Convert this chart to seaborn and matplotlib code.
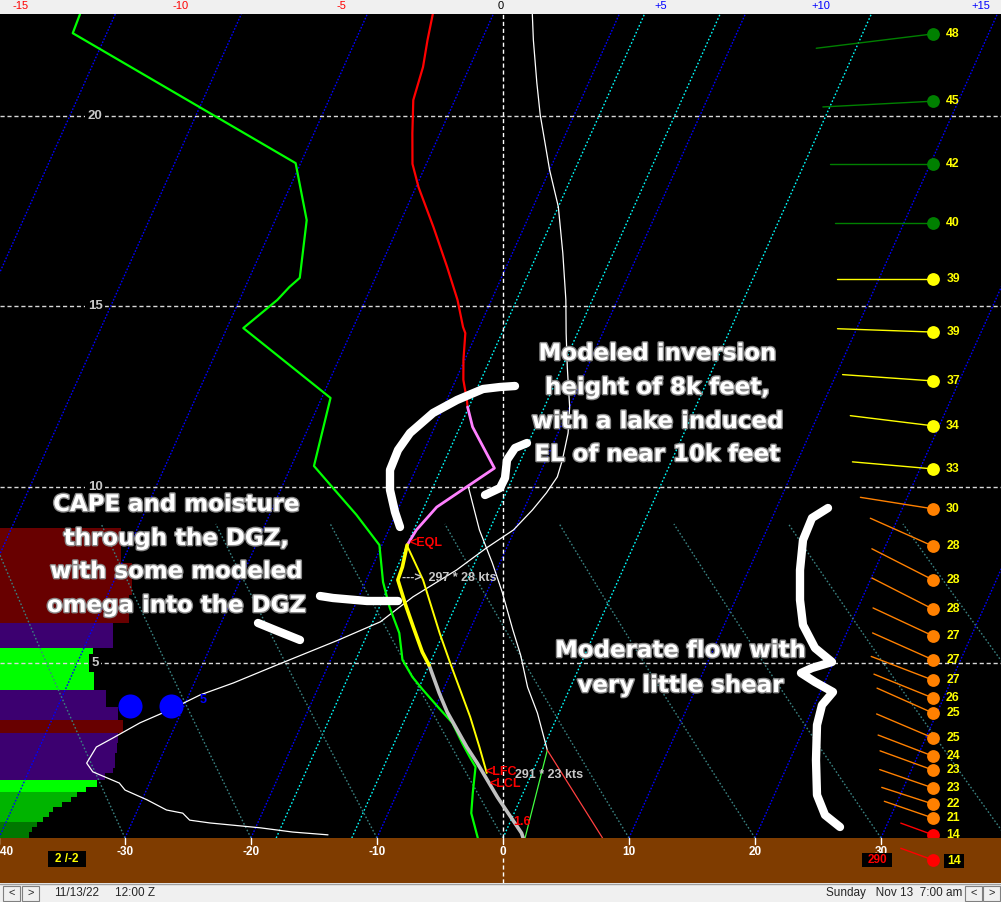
import numpy as np
import matplotlib
matplotlib.use("Agg")
import matplotlib.pyplot as plt
import matplotlib.patheffects as pe
from matplotlib.patches import Rectangle
import seaborn as sns

# ---------------- sounding data: temperature (degC) vs height (kft) ----------------
temp_h = [22.68, 22.00, 21.29, 20.42, 19.55, 18.74, 18.13, 17.08, 16.03, 15.16, 14.42, 14.25, 13.51, 12.96, 12.40, 12.21]
temp_t = [-34.8, -34.3, -33.7, -33.3, -32.2, -31.1, -29.8, -27.2, -24.7, -22.7, -21.3, -20.9, -20.1, -19.4, -18.4, -18.1]
inv_h = [12.21, 11.66, 10.52, 9.43, 8.78, 8.35]
inv_t = [-18.1, -17.0, -13.8, -17.0, -17.8, -18.0]
cape_h = [8.35, 7.73, 7.36, 6.65, 6.02, 5.31, 4.94]
cape_t = [-18.0, -17.6, -17.5, -16.0, -14.6, -13.0, -12.0]
low_h = [4.94, 4.14, 3.60, 2.60, 2.14, 1.17, 0.14, 0.0]
low_t = [-12.0, -10.2, -8.9, -6.1, -4.7, -1.9, 1.3, 1.6]
parcel_h = [8.30, 7.36, 5.85, 5.00, 3.46, 2.60, 1.86]
parcel_t = [-17.9, -15.5, -12.3, -10.4, -6.9, -5.1, -3.6]
dew_h = [22.68, 22.18, 18.76, 17.26, 15.74, 15.50, 15.16, 14.39, 12.46, 10.58, 9.97, 9.21, 8.35, 7.30,
         6.59, 5.85, 5.09, 4.60, 4.23, 3.66, 3.29, 2.71, 2.31, 2.03, 1.29, 0.71, 0.0]
dew_t = [-62.8, -62.7, -40.4, -37.5, -36.0, -36.5, -37.0, -38.7, -29.3, -28.2, -25.9, -23.1, -20.2, -18.6,
         -17.2, -15.5, -14.3, -12.9, -11.6, -9.5, -8.1, -6.6, -5.5, -4.7, -4.0, -3.4, -2.0]
aux_h = [22.68, 22.00, 20.87, 20.03, 18.58, 17.61, 16.39, 15.16, 14.25, 13.31, 12.21, 11.49, 10.75, 10.28,
         9.83, 9.35, 8.78, 8.27, 7.64, 6.88, 6.17, 5.65, 4.94, 4.43, 4.09, 3.66, 3.29, 2.86, 2.60, 2.14,
         1.89, 1.57, 1.37, 1.09, 0.80, 0.71, 0.51, 0.43, 0.29, 0.17, 0.09]
aux_t = [-26.9, -25.9, -24.1, -22.7, -20.0, -18.0, -16.0, -14.1, -12.9, -11.6, -10.0, -9.2, -8.7, -8.5,
         -8.8, -9.3, -10.1, -11.6, -13.2, -15.7, -17.4, -20.1, -24.1, -26.9, -29.1, -31.0, -32.9, -34.5, -35.5, -35.7,
         -34.9, -32.4, -31.7, -29.6, -27.7, -26.3, -25.5, -23.8, -19.6, -16.9, -14.0]
wb_h = [10.00, 8.78, 7.84, 7.02, 5.94, 5.23, 4.31, 3.57, 2.51]
wb_t = [-15.2, -12.8, -10.6, -8.8, -6.6, -5.1, -3.4, -1.7, 0.4]
split_h = [2.51, 0.0]
split_green_t = [0.4, 1.75]
split_red_t = [0.4, 7.9]

# left-hand layer bars (edges in kft, lengths in axis units, colour class)
bar_edges = [8.84, 7.84, 6.93, 6.14, 5.43, 5.00, 4.23, 3.74, 3.37, 3.00, 2.71, 2.43, 2.00, 1.86, 1.66,
             1.46, 1.31, 1.17, 1.03, 0.89, 0.74, 0.60, 0.46, 0.31, 0.17, 0.0]
bar_len = [9.6, 10.5, 10.2, 9.0, 7.4, 7.5, 8.4, 9.4, 9.8, 9.4, 9.3, 9.1, 9.0, 8.3, 7.7, 6.8, 6.1, 5.6,
           4.9, 4.2, 3.9, 3.4, 2.9, 2.5, 2.3]
bar_cls = ['r', 'r', 'r', 'p', 'l', 'l', 'p', 'p', 'r', 'p', 'p', 'p', 'p', 'p', 'l', 'l', 'g', 'g',
           'g', 'g', 'g', 'g', 'd', 'd', 'd']

# winds
wind_h = [22.16, 20.39, 18.74, 17.18, 15.71, 14.28, 12.93, 11.69, 10.50, 9.38, 8.32, 7.36, 6.53, 5.77,
          5.09, 4.51, 4.00, 3.57, 2.86, 2.34, 1.94, 1.43, 0.97, 0.57, 0.09]
wind_spd = [48, 45, 42, 40, 39, 39, 37, 34, 33, 30, 28, 28, 28, 27, 27, 27, 26, 25, 25, 24, 23, 23, 22, 21, 14]
wind_dir = [263, 267, 270, 270, 270, 272, 274, 277, 275, 279, 294, 297, 297, 295, 294, 291, 292, 294,
            293, 291, 290, 289, 288, 289, 290]
sfc_spd, sfc_dir = 14, 290

isotherms = list(range(-70, 50, 10))
special_isotherms = [0, -12, -18]
adiabat_base = list(range(-50, 60, 10))
height_ticks = [5, 10, 15, 20]
bottom_ticks = [-40, -30, -20, -10, 0, 10, 20, 30]
top_vals = [-15, -10, -5, 0, 5, 10, 15]

# ---------------- geometry ----------------
W, H = 1001, 902
PXC = 12.6                  # pixels per degC
X0 = 503                    # pixel of 0 degC at surface
SKEW = 0.447 / PXC
H_ANCH = [-5, 0, 5, 10, 15, 20, 30]
P_ANCH = [-175, 0, 175, 351, 532, 722, 1102]

def fwd(h):
    return np.interp(np.asarray(h, float), H_ANCH, P_ANCH)

def inv(p):
    return np.interp(np.asarray(p, float), P_ANCH, H_ANCH)

def skew(t, h):
    return np.asarray(t, float) + SKEW * fwd(h)

XMIN, XMAX = (0 - X0) / PXC, (W - X0) / PXC
HTOP = float(inv(824))

sns.set_theme(style="dark")
plt.rcParams['font.family'] = ['DejaVu Sans']

fig = plt.figure(figsize=(W / 100, H / 100), dpi=100)
fig.patch.set_facecolor('#f0f0f0')

ax = fig.add_axes([0, 64 / H, 1, 824 / H])
ax.set_facecolor('black')
ax.set_yscale('function', functions=(fwd, inv))
ax.set_xlim(XMIN, XMAX)
ax.set_ylim(0, HTOP)
ax.grid(False)
ax.set_xticks([]); ax.set_yticks([])
for s in ax.spines.values():
    s.set_visible(False)

# bars
cmap = {'r': '#680000', 'p': '#3c0070', 'l': '#00ff00', 'g': '#00b400', 'd': '#007800'}
tops = np.array(bar_edges[:-1]); bots = np.array(bar_edges[1:])
ax.barh(bots, bar_len, height=tops - bots, left=XMIN, align='edge',
        color=[cmap[c] for c in bar_cls], linewidth=0, zorder=1)

# background lines
hh = np.linspace(0, HTOP, 80)
for T in isotherms:
    if T == 0:
        continue
    ax.plot(skew(T, hh), hh, color='#0000ff', lw=1, ls=(0, (1.2, 1.2)), zorder=2)
for T in special_isotherms:
    ax.plot(skew(T, hh), hh, color='#00ffff', lw=1, ls=(0, (1.2, 1.5)), zorder=2)
ha = np.linspace(0, 8.95, 40)
za = ha * 304.8
pa = 1013.25 * (1 - 2.25577e-5 * za) ** 5.25588
for T0 in adiabat_base:
    ta = (T0 + 273.15) * (pa / 1013.25) ** 0.2857 - 273.15
    ax.plot(skew(ta, ha), ha, color='#3a8282', lw=1, ls=(0, (1.2, 1.5)), zorder=2)

for h in height_ticks:
    ax.axhline(h, color='#d8d8d8', lw=1, ls=(0, (3, 2)), zorder=2.5)
    ax.text((95 - X0) / PXC, h, str(h), color='#c8c8c8', fontsize=9.5, ha='center', va='center',
            family='Liberation Sans', fontweight='bold', zorder=3,
            bbox=dict(facecolor='black', edgecolor='none', pad=2.0))
ax.axvline(0, color='white', lw=1, ls=(0, (3, 2)), zorder=2.5)

# traces
def trace(t, h, color, lw, z=4):
    sns.lineplot(x=skew(t, h), y=np.asarray(h), sort=False, estimator=None, color=color,
                 lw=lw, ax=ax, zorder=z, legend=False)

trace(aux_t, aux_h, 'white', 0.9, 3)
trace(wb_t, wb_h, 'white', 0.9, 3)
trace(split_green_t, split_h, '#40ff40', 0.9, 3)
trace(split_red_t, split_h, '#ff4040', 0.9, 3)
trace(dew_t, dew_h, '#00ff00', 1.6)
trace(temp_t, temp_h, '#ff0000', 1.6)
trace(inv_t, inv_h, '#ff80ff', 2.0)
trace(parcel_t, parcel_h, '#ffff00', 1.4)
trace(low_t, low_h, '#c0c0c0', 2.6)
trace(cape_t, cape_h, '#ffff00', 2.6)

# blue dots
ax.scatter([(130 - X0) / PXC, (171 - X0) / PXC], [3.77, 3.77], s=300, color='#0000ff', zorder=5, linewidths=0)

# winds
XDOT = (933 - X0) / PXC
def wcol(s):
    if s >= 40:
        return '#008000'
    if s >= 31:
        return '#ffff00'
    if s >= 20:
        return '#ff8000'
    return '#ff0000'

for h, s, d in zip(wind_h, wind_spd, wind_dir):
    a = np.deg2rad(d - 270)
    L = 2.45 * s
    xe = XDOT - L * np.cos(a) / PXC
    he = float(inv(fwd(h) + L * np.sin(a)))
    ax.plot([XDOT, xe], [h, he], color=wcol(s), lw=1, zorder=5)
    ax.scatter([XDOT], [h], s=85, color=wcol(s), zorder=6, linewidths=0)
    ax.text((953 - X0) / PXC, h, str(s), color='#ffff00', fontsize=8.8, fontweight='bold',
            family='Liberation Sans', ha='center', va='center', zorder=6)

# ---------------- brown band ----------------
bx = fig.add_axes([0, 19 / H, 1, 45 / H])
bx.set_facecolor('#7f3c00')
bx.set_xlim(XMIN, XMAX); bx.set_ylim(45, 0)
bx.set_xticks([]); bx.set_yticks([]); bx.grid(False)
for s in bx.spines.values():
    s.set_visible(False)
for v in bottom_ticks:
    bx.plot([v, v], [0, 6], color='white', lw=1)
    xo = 0.45 if v == bottom_ticks[0] else 0.0
    bx.text(v + xo, 14, str(v), color='white', fontsize=8.5, ha='center', va='center',
            family='Liberation Sans', fontweight='bold')
bx.plot([0, 0], [20, 45], color='white', lw=1, ls=(0, (3, 2)))
a = np.deg2rad(sfc_dir - 270)
L = 2.45 * sfc_spd
bx.plot([XDOT, XDOT - L * np.cos(a) / PXC], [22, 22 - L * np.sin(a)], color='#ff0000', lw=1)
bx.scatter([XDOT], [22], s=85, color='#ff0000', linewidths=0, zorder=5)

# ---------------- overlay (pixel coordinates) ----------------
ov = fig.add_axes([0, 0, 1, 1], zorder=10)
ov.set_xlim(0, W); ov.set_ylim(H, 0); ov.axis('off')

# header scale
for v in top_vals:
    col = '#ff0000' if v < 0 else ('black' if v == 0 else '#0000ff')
    lab = ('+%d' % v) if v > 0 else str(v)
    ov.text(501 + 32.0 * v, 6, lab, color=col, fontsize=8, ha='center', va='center', family='Liberation Sans')

# status bar
ov.plot([0, W], [883.5, 883.5], color='#a0a0a0', lw=1)
for x0, ch in [(3, '<'), (22, '>'), (965, '<'), (983, '>')]:
    ov.add_patch(Rectangle((x0, 886), 17, 15, facecolor='#f0f0f0', edgecolor='#808080', lw=0.8))
    ov.text(x0 + 8.5, 893, ch, fontsize=8, ha='center', va='center', family='Liberation Sans')
ov.text(54, 893, '11/13/22', fontsize=8.5, ha='left', va='center', family='Liberation Sans')
ov.text(115, 893, '12:00 Z', fontsize=8.5, ha='left', va='center', family='Liberation Sans')
ov.text(962, 893, 'Sunday   Nov 13  7:00 am', fontsize=8.5, ha='right', va='center', family='Liberation Sans')

# boxes in band
ov.add_patch(Rectangle((48, 851), 38, 16, facecolor='black', edgecolor='none'))
ov.text(67, 859, '2 /-2', color='#ffff00', fontsize=8.5, fontweight='bold', ha='center', va='center',
        family='Liberation Sans')
ov.add_patch(Rectangle((862, 853), 30, 14, facecolor='black', edgecolor='none'))
ov.text(877, 860, '290', color='#ff0000', fontsize=8.5, fontweight='bold', ha='center', va='center',
        family='Liberation Sans')
ov.add_patch(Rectangle((944, 854), 20, 14, facecolor='black', edgecolor='none'))
ov.text(954, 861, '14', color='#ffff00', fontsize=8.8, fontweight='bold', ha='center', va='center',
        family='Liberation Sans')

# small labels
small = dict(fontsize=9, family='Liberation Sans', fontweight='bold', va='center', ha='left', zorder=12)
ov.text(410, 543, '<EQL', color='#ff0000', **small)
ov.text(486, 772, '<LFC', color='#ff0000', **small)
ov.text(490, 784, '<LCL', color='#ff0000', **small)
ov.text(513, 822, '1.6', color='#ff0000', **small)
ov.text(402, 578, '--->  297 * 28 kts', color='#c8c8c8', **small)
ov.text(515, 775, '291 * 23 kts', color='#c8c8c8', **small)
ov.text(200, 700, '5', color='#0000ff', fontsize=9, fontweight='bold', family='Liberation Sans',
        va='center', ha='left')

# hand-drawn strokes
strokes = [
    [(515, 386), (500, 387), (483, 389), (457, 400), (433, 413), (410, 433), (398, 450), (390, 470),
     (390, 490), (395, 512), (400, 527)],
    [(527, 443), (515, 448), (507, 460), (505, 478), (500, 488), (485, 495)],
    [(320, 596), (333, 598), (367, 601), (398, 601)],
    [(258, 623), (280, 632), (300, 640)],
    [(828, 508), (812, 518), (803, 540), (800, 570), (800, 600), (803, 625), (815, 648), (832, 662),
     (812, 668), (801, 673), (815, 682), (833, 692), (822, 705), (817, 725), (816, 760), (817, 795),
     (825, 815), (840, 827)],
]
for st in strokes:
    xs, ys = zip(*st)
    ov.plot(xs, ys, color='white', lw=6, solid_capstyle='round', solid_joinstyle='round', zorder=11)

# annotation text
big = dict(fontsize=16.5, fontweight='bold', color='white', ha='center', va='baseline', zorder=13,
           family='DejaVu Sans', path_effects=[pe.withStroke(linewidth=2.0, foreground='#8a8a8a')])
for y, s in zip([360, 394, 428, 461], ['Modeled inversion', 'height of 8k feet,',
                                        'with a lake induced', 'EL of near 10k feet']):
    ov.text(657, y, s, **big)
for y, s in zip([511, 545, 578, 612], ['CAPE and moisture', 'through the DGZ,',
                                        'with some modeled', 'omega into the DGZ']):
    ov.text(176, y, s, **big)
for y, s in zip([657, 692], ['Moderate flow with', 'very little shear']):
    ov.text(680, y, s, **big)

fig.savefig('out.png', dpi=100, facecolor=fig.get_facecolor())
